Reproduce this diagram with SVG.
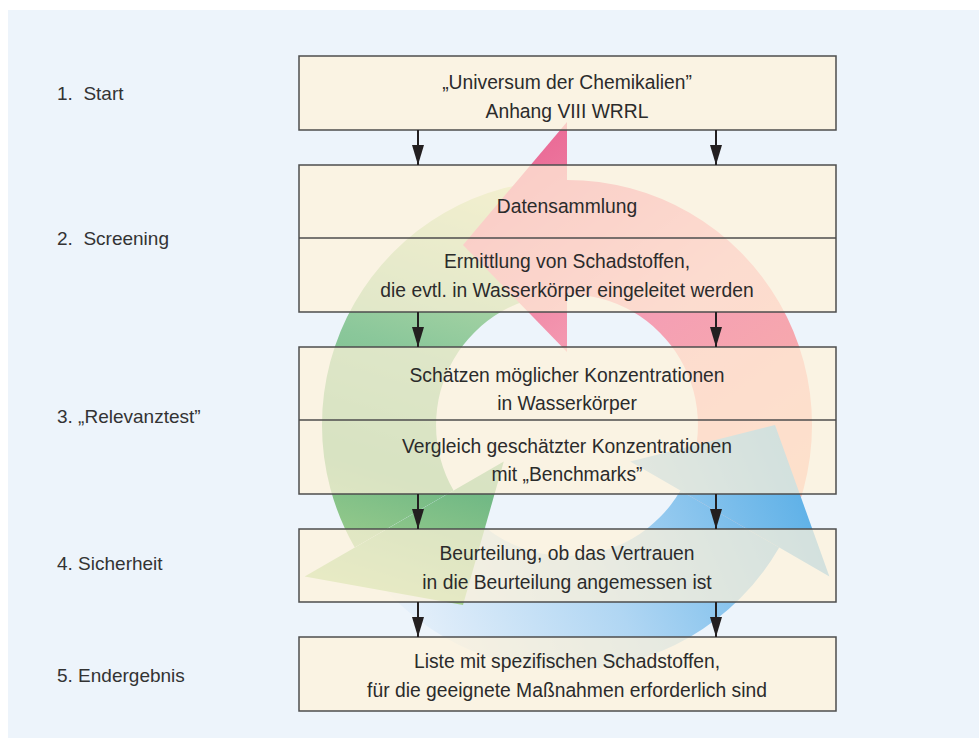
<svg xmlns="http://www.w3.org/2000/svg" width="979" height="738" viewBox="0 0 979 738">
<style>
.box{fill:#fff3d9;fill-opacity:0.72;stroke:#4d4d4d;stroke-width:1.5}
.div{stroke:#4d4d4d;stroke-width:1.5}
.t{font-family:"Liberation Sans",Arial,sans-serif;font-size:19.3px;fill:#2b2b2b;text-anchor:middle}
.lbl{font-family:"Liberation Sans",Arial,sans-serif;font-size:19px;fill:#333}
.conn{stroke:#231f20;stroke-width:2;fill:none;marker-end:url(#ah)}
</style>
<defs>
<marker id="ah" markerUnits="userSpaceOnUse" markerWidth="20" markerHeight="12" refX="20" refY="6" orient="auto">
<path d="M0,0 L20,6 L0,12 Z" fill="#231f20"/>
</marker>
<linearGradient id="pinkG" gradientUnits="userSpaceOnUse" x1="760" y1="560" x2="480" y2="180">
<stop offset="0" stop-color="#f8b4a4"/>
<stop offset="0.55" stop-color="#f59fb4"/>
<stop offset="1" stop-color="#ea6a96"/>
</linearGradient>
<linearGradient id="greenG" gradientUnits="userSpaceOnUse" x1="560" y1="190" x2="430" y2="610">
<stop offset="0" stop-color="#d6e7b4"/>
<stop offset="0.45" stop-color="#8ac79a"/>
<stop offset="0.72" stop-color="#72b985"/>
<stop offset="1" stop-color="#a9d38e"/>
</linearGradient>
<linearGradient id="blueG" gradientUnits="userSpaceOnUse" x1="420" y1="640" x2="820" y2="470">
<stop offset="0" stop-color="#e4effa"/>
<stop offset="0.45" stop-color="#b0d6f3"/>
<stop offset="1" stop-color="#56ade6"/>
</linearGradient>
</defs>
<rect x="0" y="0" width="979" height="738" fill="#ffffff"/>
<rect x="8" y="10" width="971" height="728" fill="#edf4fb"/>

<g id="cycle">
<path d="M 779.2 547.5 A 245 245 0 0 0 567 180 L 567 294 A 131 131 0 0 1 680.4 490.5 Z" fill="url(#pinkG)"/>
<path d="M 567 180 A 245 245 0 0 0 354.8 547.5 L 453.6 490.5 A 131 131 0 0 1 567 294 Z" fill="url(#greenG)"/>
<path d="M 354.8 547.5 A 245 245 0 0 0 779.2 547.5 L 680.4 490.5 A 131 131 0 0 1 453.6 490.5 Z" fill="url(#blueG)"/>
<path d="M 567 122 L 463 244.9 L 567 352 Z" fill="url(#pinkG)"/>
<path d="M 304.6 576.5 L 463 605.1 L 503.8 461.5 Z" fill="url(#greenG)"/>
<path d="M 829.4 576.5 L 775 425 L 630.2 461.5 Z" fill="url(#blueG)"/>
</g>

<g id="n1">
<rect class="box" x="299" y="56" width="537" height="74"/>
<text class="t" x="567" y="89">„Universum der Chemikalien”</text>
<text class="t" x="567" y="117.5">Anhang VIII WRRL</text>
</g>
<g id="n2">
<rect class="box" x="299" y="165" width="537" height="147"/>
<line class="div" x1="299" y1="238" x2="836" y2="238"/>
<text class="t" x="567" y="212.7">Datensammlung</text>
<text class="t" x="567" y="268.3">Ermittlung von Schadstoffen,</text>
<text class="t" x="567" y="296.7">die evtl. in Wasserkörper eingeleitet werden</text>
</g>
<g id="n3">
<rect class="box" x="299" y="347" width="537" height="147"/>
<line class="div" x1="299" y1="420" x2="836" y2="420"/>
<text class="t" x="567" y="381.7">Schätzen möglicher Konzentrationen</text>
<text class="t" x="567" y="410">in Wasserkörper</text>
<text class="t" x="567" y="452.7">Vergleich geschätzter Konzentrationen</text>
<text class="t" x="567" y="481">mit „Benchmarks”</text>
</g>
<g id="n4">
<rect class="box" x="299" y="529" width="537" height="73"/>
<text class="t" x="567" y="560">Beurteilung, ob das Vertrauen</text>
<text class="t" x="567" y="589">in die Beurteilung angemessen ist</text>
</g>
<g id="n5">
<rect class="box" x="299" y="637" width="537" height="74"/>
<text class="t" x="567" y="668.3">Liste mit spezifischen Schadstoffen,</text>
<text class="t" x="567" y="696.7">für die geeignete Maßnahmen erforderlich sind</text>
</g>

<g id="connectors">
<line class="conn" x1="418" y1="130" x2="418" y2="165"/>
<line class="conn" x1="716" y1="130" x2="716" y2="165"/>
<line class="conn" x1="418" y1="312" x2="418" y2="347"/>
<line class="conn" x1="716" y1="312" x2="716" y2="347"/>
<line class="conn" x1="418" y1="494" x2="418" y2="529"/>
<line class="conn" x1="716" y1="494" x2="716" y2="529"/>
<line class="conn" x1="418" y1="602" x2="418" y2="637"/>
<line class="conn" x1="716" y1="602" x2="716" y2="637"/>
</g>

<g id="labels">
<text class="lbl" x="57" y="100" xml:space="preserve">1.  Start</text>
<text class="lbl" x="57" y="245" xml:space="preserve">2.  Screening</text>
<text class="lbl" x="57" y="423">3. „Relevanztest”</text>
<text class="lbl" x="57" y="570">4. Sicherheit</text>
<text class="lbl" x="57" y="682">5. Endergebnis</text>
</g>
</svg>
